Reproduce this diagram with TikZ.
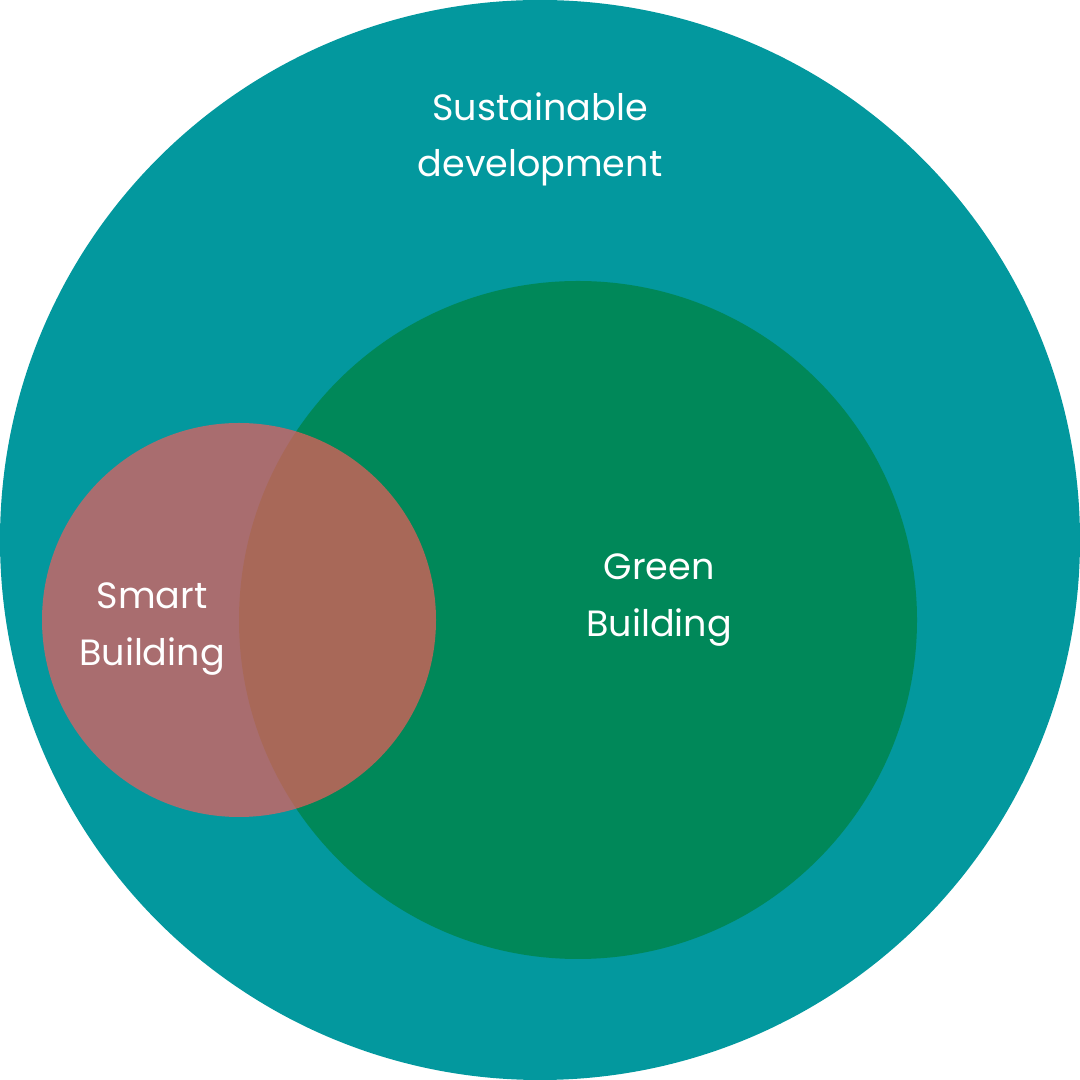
\documentclass[tikz,border=0pt]{standalone}
\usepackage{fontspec}
\setmainfont{Poppins}
\usepackage{tikz}
\usetikzlibrary{positioning}
\definecolor{sustain}{RGB}{3,152,158}
\definecolor{greenb}{RGB}{0,136,89}
\definecolor{smart}{RGB}{255,88,88}

\begin{document}
\begin{tikzpicture}[
    label/.style={text=white, align=center, font=\fontsize{10.4pt}{16pt}\selectfont}
]
    \useasboundingbox (0,0) rectangle (10.8,10.8);
    % Circles
    \fill[sustain] (5.4,5.4) circle (5.4);
    \fill[greenb] (5.78,4.6) circle (3.39);
    \fill[smart, fill opacity=0.66] (2.39,4.6) circle (1.97);
    
    % Labels
    \node[label] (sustainable) at (5.4,9.41) {Sustainable\\development};
    \node[label] (greenlabel) at (6.59,4.8) {Green\\Building};
    \node[label] (smartlabel) at (1.52,4.51) {Smart\\Building};
\end{tikzpicture}
\end{document}
